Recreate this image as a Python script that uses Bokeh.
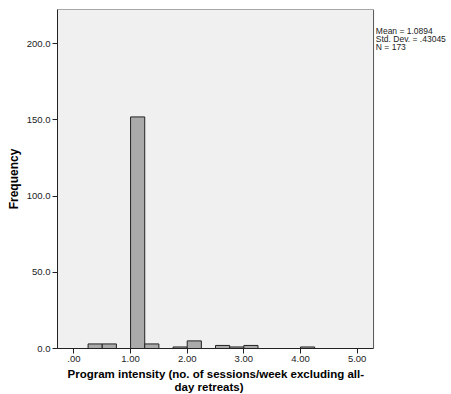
from bokeh.plotting import figure
from bokeh.models import FixedTicker, PrintfTickFormatter, Range1d, Label, BoxAnnotation, Title
from bokeh.embed import file_html
from bokeh.resources import INLINE

# Histogram bins (left edges, width 0.25) and their frequencies
bin_left = [0.25, 0.50, 1.00, 1.25, 1.75, 2.00, 2.50, 2.75, 3.00, 4.00]
bin_width = 0.25
counts = [3, 3, 152, 3, 1, 5, 2, 1, 2, 1]

x_ticks = [0, 1, 2, 3, 4, 5]
x_tick_labels = [".00", "1.00", "2.00", "3.00", "4.00", "5.00"]
y_ticks = [0, 50, 100, 150, 200]

stats_lines = ["Mean = 1.0894", "Std. Dev. = .43045", "N = 173"]
x_title_lines = ["Program intensity (no. of sessions/week excluding all-", "day retreats)"]

FONT = "Liberation Sans"

# chart box spans x in [X0, X1]; the canvas extends further right for the stats text
X0, X1 = -0.29, 5.29
Y0, Y1 = 0, 222.5
X_CANVAS_END = 6.666

p = figure(width=451, height=394, output_backend="svg", toolbar_location=None,
           x_range=Range1d(X0, X_CANVAS_END), y_range=Range1d(Y0, Y1),
           min_border_left=57, min_border_right=0, min_border_top=9, min_border_bottom=46)

p.background_fill_color = "white"
p.border_fill_color = "white"
p.outline_line_color = None
p.xgrid.visible = False
p.ygrid.visible = False

# chart box: light grey fill with a dark grey border
p.add_layout(BoxAnnotation(left=X0, right=X1, bottom=Y0, top=Y1,
                           fill_color="#f0f0f0", fill_alpha=1,
                           line_color="#555555", line_width=1, line_alpha=1,
                           level="underlay"))

rights = [l + bin_width for l in bin_left]
p.quad(left=bin_left, right=rights, bottom=0, top=counts,
       fill_color="#aaaaaa", line_color="#222222", line_width=1)

# axes
p.xaxis.ticker = FixedTicker(ticks=x_ticks)
p.xaxis.major_label_overrides = {t: s for t, s in zip(x_ticks, x_tick_labels)}
p.xaxis.bounds = (X0, X1)
p.yaxis.ticker = FixedTicker(ticks=y_ticks)
p.yaxis.formatter = PrintfTickFormatter(format="%.1f")

for ax in (p.xaxis, p.yaxis):
    ax.minor_tick_line_color = None
    ax.major_tick_in = 0
    ax.major_tick_out = 5
    ax.major_tick_line_color = "#222222"
    ax.axis_line_color = "#222222"
    ax.major_label_text_font = FONT
    ax.major_label_text_font_size = "9.5px"
    ax.major_label_text_color = "#222222"
    ax.axis_label_text_font = FONT
    ax.axis_label_text_font_style = "bold"
    ax.axis_label_text_font_size = "12px"
    ax.axis_label_text_color = "#000000"

p.xaxis.major_label_standoff = 2
p.yaxis.major_label_standoff = 2
p.yaxis.axis_label = "Frequency"
p.yaxis.axis_label_standoff = 3

# x-axis title, two lines centred under the chart box
for line, off, gap in zip(x_title_lines, [10, 117], [3, -5]):
    p.add_layout(Title(text=line, align="left", offset=off, standoff=gap,
                       text_font=FONT, text_font_style="bold", text_font_size="11.5px",
                       text_color="#000000"), "below")

# summary statistics to the right of the chart box
for i, line in enumerate(stats_lines):
    p.add_layout(Label(x=5.33, y=208.5 - i * 5.3, text=line, text_font=FONT,
                       text_font_size="8.5px", text_color="#222222",
                       text_baseline="middle", text_align="left"))

open("out.html", "w").write(file_html(p, INLINE))
